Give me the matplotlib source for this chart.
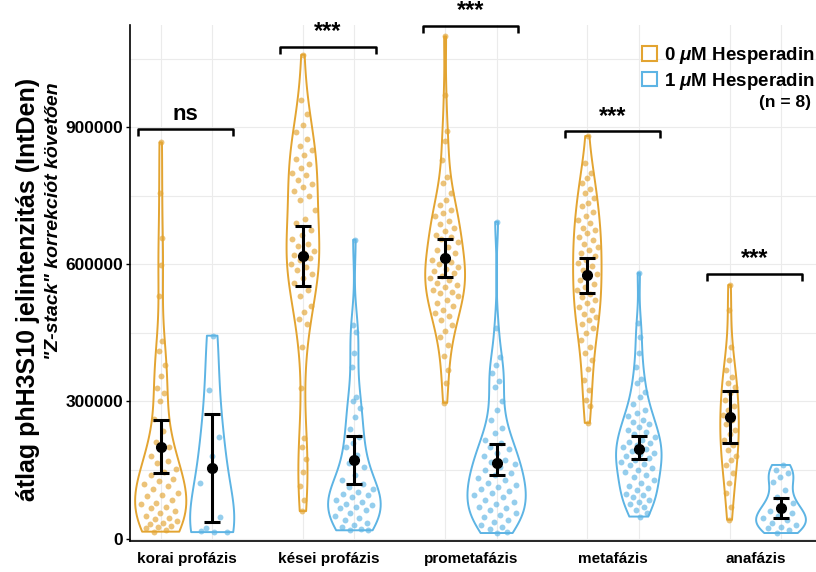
import numpy as np
import matplotlib.pyplot as plt
from matplotlib.patches import Patch

plt.rcParams['font.family'] = ['Liberation Sans', 'DejaVu Sans']
plt.rcParams['mathtext.fontset'] = 'custom'
plt.rcParams['mathtext.it'] = 'Liberation Sans:italic:bold'
plt.rcParams['mathtext.rm'] = 'Liberation Sans:bold'

phases = ['korai profázis', 'kései profázis', 'prometafázis', 'metafázis', 'anafázis']
conditions = [r'0 $\mu$M Hesperadin', r'1 $\mu$M Hesperadin']
colors = ['#E3A431', '#5DB4E4']

# per-cell IntDen values, in thousands
korai_0 = [867, 757, 657, 599, 530, 433, 410, 380, 355, 330, 318, 300, 262, 235, 212,
           200, 196, 180, 170, 165, 152, 145, 140, 130, 125, 120, 115, 108, 100, 95,
           92, 85, 78, 75, 70, 66, 60, 55, 50, 45, 42, 38, 35, 32, 28, 25, 22, 18, 15]
korai_1 = [444, 325, 222, 180, 121, 48, 22, 15, 14, 16]
kesei_0 = [1059, 960, 930, 905, 890, 875, 860, 850, 840, 830, 820, 810, 800, 795, 785,
           775, 770, 760, 750, 740, 720, 700, 690, 675, 665, 655, 645, 640, 630, 625,
           620, 615, 610, 600, 595, 588, 580, 570, 560, 545, 530, 510, 495, 480, 470,
           420, 330, 220, 200, 175, 145, 115, 85, 60]
kesei_1 = [654, 467, 452, 406, 376, 310, 300, 286, 266, 240, 222, 210, 200, 183, 165,
           157, 140, 128, 120, 113, 108, 102, 98, 95, 90, 84, 80, 75, 73, 70,
           67, 62, 56, 50, 45, 41, 35, 30, 25, 20, 19, 18]
prometa_0 = [1099, 971, 891, 869, 829, 792, 778, 756, 740, 730, 720, 713, 705, 694, 688,
             680, 672, 665, 661, 655, 648, 639, 632, 625, 618, 610, 605, 600, 595, 590,
             585, 581, 575, 570, 566, 560, 555, 551, 545, 540, 537, 530, 522, 515, 508,
             500, 493, 486, 478, 467, 455, 442, 424, 400, 369, 340, 297]
prometa_1 = [693, 460, 398, 380, 362, 345, 332, 300, 281, 260, 242, 230, 216, 208, 201,
             195, 187, 180, 172, 168, 162, 157, 150, 143, 138, 132, 128, 122, 118, 113,
             108, 104, 99, 95, 90, 84, 80, 75, 70, 66, 62, 56, 52, 48, 41,
             36, 30, 26, 20, 15, 12]
meta_0 = [881, 822, 800, 790, 778, 765, 756, 745, 735, 727, 715, 705, 697, 690, 680,
          676, 668, 660, 654, 645, 638, 632, 625, 618, 610, 603, 596, 588, 580, 573,
          566, 558, 551, 544, 536, 529, 522, 515, 507, 500, 492, 485, 479, 470, 460,
          450, 435, 420, 405, 391, 370, 347, 325, 303, 289, 253]
meta_1 = [581, 472, 442, 406, 376, 350, 340, 320, 310, 295, 281, 275, 268, 260, 255,
          250, 245, 238, 233, 228, 222, 216, 212, 208, 204, 200, 196, 192, 188, 184,
          180, 176, 172, 168, 164, 160, 155, 150, 145, 140, 135, 128, 122, 115, 110,
          106, 98, 95, 90, 84, 80, 75, 70, 62, 55, 48]
ana_0 = [555, 500, 420, 391, 369, 354, 340, 332, 318, 303, 290, 281, 270, 260, 250,
         238, 228, 216, 205, 194, 180, 172, 160, 143, 121, 99, 70, 41]
ana_1 = [161, 150, 143, 135, 124, 106, 90, 77, 68, 60, 56, 50, 45, 40, 34,
         30, 26, 22, 18, 12]

# mean and error bar limits per phase, in thousands
mean_0 = [201, 619, 614, 577, 265]
low_0 = [143, 553, 573, 538, 210]
high_0 = [260, 683, 655, 615, 322]
mean_1 = [154, 172, 165, 197, 66]
low_1 = [37, 119, 139, 173, 44]
high_1 = [273, 224, 207, 224, 88]

sig_labels = ['ns', '***', '***', '***', '***']
sig_height = [897, 1076, 1122, 891, 579]

groups_0 = [korai_0, kesei_0, prometa_0, meta_0, ana_0]
groups_1 = [korai_1, kesei_1, prometa_1, meta_1, ana_1]


def nrd0(kde):
    # R's default bandwidth, expressed as a factor of the sample sd
    d = kde.dataset.ravel()
    sd = d.std(ddof=1)
    iqr = np.subtract(*np.percentile(d, [75, 25]))
    return 0.9 * min(sd, iqr / 1.34) * len(d) ** -0.2 / sd


def sina_x(body, pos, values, spread=0.8):
    # spread the points sideways within the violin outline
    verts = body.get_paths()[0].vertices
    right = verts[verts[:, 0] >= pos]
    order = np.argsort(right[:, 1])
    half = np.interp(values, right[order, 1], right[order, 0] - pos)
    k = np.arange(len(values))
    u = ((k + 1) * 0.6180339887) % 1.0 * 2 - 1
    return pos + u * half * spread


fig = plt.figure(figsize=(8.16, 5.72), dpi=100)
ax = fig.add_axes([130 / 816, 31.3 / 572, 686 / 816, 515.7 / 572])

x = np.arange(len(phases))
dodge = 0.181
violin_w = [[0.36, 0.23, 0.28, 0.20, 0.13],
            [0.31, 0.37, 0.41, 0.32, 0.35]]

for j, (groups, means, lows, highs) in enumerate(
        [(groups_0, mean_0, low_0, high_0), (groups_1, mean_1, low_1, high_1)]):
    pos = x + (2 * j - 1) * dodge
    data = [np.array(g) * 1000.0 for g in groups]
    parts = ax.violinplot(data, positions=pos, widths=violin_w[j],
                          showextrema=False, bw_method=nrd0)
    for body, p, vals in zip(parts['bodies'], pos, data):
        body.set_facecolor('none')
        body.set_edgecolor(colors[j])
        body.set_linewidth(1.4)
        body.set_alpha(1)
        body.set_zorder(3)
        ax.scatter(sina_x(body, p, vals), vals, s=18, color=colors[j],
                   alpha=0.65, linewidths=0, zorder=2)
    m = np.array(means) * 1000.0
    yerr = [m - np.array(lows) * 1000.0, np.array(highs) * 1000.0 - m]
    ax.errorbar(pos, m, yerr=yerr, fmt='o', color='black', ms=7,
                elinewidth=2.2, capsize=5.5, capthick=2.2, zorder=5)

# significance brackets
tip = 15000
for i, (lab, h) in enumerate(zip(sig_labels, sig_height)):
    h = h * 1000.0
    x0, x1 = x[i] - 0.34, x[i] + 0.33
    ax.plot([x0, x0, x1, x1], [h - tip, h, h, h - tip], color='black', lw=1.8,
            clip_on=False, zorder=6, solid_capstyle='butt')
    ax.text((x0 + x1) / 2, h + 8000, lab, ha='center', va='bottom',
            fontsize=16 if lab == 'ns' else 17, fontweight='bold', clip_on=False)

ax.set_xlim(-0.397, 4.427)
ax.set_ylim(-4800, 1124000)
ax.set_yticks([0, 300000, 600000, 900000])
ax.set_yticklabels(['0', '300000', '600000', '900000'])
ax.set_yticks(np.arange(150000, 1124000, 300000), minor=True)
ax.set_xticks(x)
ax.set_xticklabels(phases)
ax.set_xticks(np.concatenate([x - dodge, x + dodge]), minor=True)
ax.grid(True, which='both', color='#EBEBEB', lw=0.8)
ax.grid(False, which='major', axis='x')
ax.set_axisbelow(True)
ax.tick_params(axis='y', which='major', length=3, width=1, labelsize=12.5, pad=2)
ax.tick_params(axis='y', which='minor', length=0)
ax.tick_params(axis='x', which='both', length=0, labelsize=11, pad=8)
for lbl in ax.get_xticklabels() + ax.get_yticklabels():
    lbl.set_fontweight('bold')
for s in ['top', 'right']:
    ax.spines[s].set_visible(False)
for s in ['left', 'bottom']:
    ax.spines[s].set_linewidth(1.2)

fig.text(28 / 816, 1 - 78 / 572, 'átlag phH3S10 jelintenzitás (IntDen)', rotation=90,
         ha='center', va='top', fontsize=18, fontweight='bold')
fig.text(53 / 816, 1 - 82 / 572, '"Z-stack" korrekciót követően', rotation=90,
         ha='center', va='top', fontsize=14, fontweight='bold', style='italic')

handles = [Patch(facecolor='white', edgecolor=c, lw=1.5) for c in colors]
fig.legend(handles, conditions, loc='upper right', bbox_to_anchor=(815 / 816, 1 - 45 / 572),
           frameon=False, borderpad=0, borderaxespad=0, handlelength=0.8,
           handleheight=0.8, handletextpad=0.4, labelspacing=0.25,
           prop={'weight': 'bold', 'size': 13.5})
fig.text(811 / 816, 1 - 102 / 572, '(n = 8)', ha='right', va='center',
         fontsize=12.5, fontweight='bold')

fig.savefig('out.png', dpi=100, facecolor='white')
